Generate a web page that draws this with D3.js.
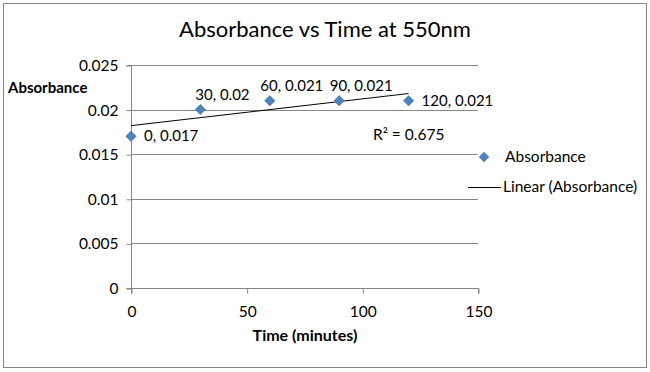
<!DOCTYPE html>
<html><head><meta charset="utf-8">
<script src="https://cdn.jsdelivr.net/npm/d3@7"></script>
<style>body{margin:0;background:#fff}svg{display:block}</style>
</head><body>
<svg id="c" width="650" height="372"></svg>
<script>
const times = [0, 30, 60, 90, 120];
const absorbance = [0.017, 0.020, 0.021, 0.021, 0.021];
const yTicks = [0, 0.005, 0.01, 0.015, 0.02, 0.025];
const xTicks = [0, 50, 100, 150];
const title = "Absorbance vs Time at 550nm";
const xTitle = "Time (minutes)";
const yTitle = "Absorbance";
const seriesName = "Absorbance";
const trendName = "Linear (Absorbance)";

const svg = d3.select("#c");
const font = "Lato, 'Open Sans', sans-serif";
const gray = "#868686";
const blue = "#4F81BD";
const fs = 15.5;

svg.append("rect").attr("x",3.5).attr("y",3.5).attr("width",643).attr("height",364)
  .attr("fill","#fff").attr("stroke",gray);

const x = d3.scaleLinear().domain([0,150]).range([131,478]);
const y = d3.scaleLinear().domain([0,0.025]).range([288,65]);

svg.append("g").selectAll("line").data(yTicks.filter(d=>d>0)).join("line")
  .attr("x1",x(0)).attr("x2",x(150)).attr("y1",d=>Math.round(y(d))+0.5).attr("y2",d=>Math.round(y(d))+0.5)
  .attr("stroke",gray).attr("stroke-width",1);

const yAxis = svg.append("g").attr("transform",`translate(${x(0)+0.5},0.5)`)
  .call(d3.axisLeft(y).tickValues(yTicks).tickSize(5).tickPadding(8).tickFormat(d=>String(+d.toFixed(3))));
const xAxis = svg.append("g").attr("transform",`translate(0.5,${y(0)+0.5})`)
  .call(d3.axisBottom(x).tickValues(xTicks).tickSize(5).tickPadding(12).tickFormat(d3.format("d")));
[yAxis,xAxis].forEach(a=>{
  a.select(".domain").attr("stroke",gray);
  a.selectAll(".tick line").attr("stroke",gray);
  a.selectAll("text").attr("font-family",font).attr("font-size",fs).attr("fill","#000");
});
xAxis.select(".domain").attr("d",`M${x(0)},5V0H${x(150)}V5`);
yAxis.select(".domain").attr("d",`M-5,${y(0.025)}H0V${y(0)}H-5`);

const mx = d3.mean(times), my = d3.mean(absorbance);
const sxy = d3.sum(times,(t,i)=>(t-mx)*(absorbance[i]-my));
const sxx = d3.sum(times,t=>(t-mx)*(t-mx));
const slope = sxy/sxx, icpt = my - slope*mx;
const ssTot = d3.sum(absorbance,v=>(v-my)*(v-my));
const r2 = slope*slope*sxx/ssTot;
svg.append("line").attr("x1",x(0)).attr("y1",y(icpt)).attr("x2",x(120)).attr("y2",y(icpt+slope*120))
  .attr("stroke","#000").attr("stroke-width",1);

const diamond = d3.symbol().type(d3.symbolDiamond2).size(70);
svg.append("g").selectAll("path").data(times).join("path")
  .attr("d",diamond).attr("transform",(t,i)=>`translate(${x(t)},${y(absorbance[i])})`)
  .attr("fill",blue).attr("stroke","#3d6ea8").attr("stroke-width",0.5);

const labelPos = ["right","above","above","above","right"];
svg.append("g").selectAll("text").data(times).join("text")
  .attr("x",(t,i)=>labelPos[i]==="right"? x(t)+13 : x(t)+22)
  .attr("y",(t,i)=>labelPos[i]==="right"? y(absorbance[i])+5 : y(absorbance[i])-10)
  .attr("text-anchor",(t,i)=>labelPos[i]==="right"?"start":"middle")
  .attr("font-family",font).attr("font-size",15)
  .text((t,i)=>`${t}, ${+absorbance[i].toFixed(3)}`);

svg.append("text").attr("x",373).attr("y",140).attr("text-anchor","start")
  .attr("font-family",font).attr("font-size",fs).text("R² = "+r2.toFixed(3));

svg.append("text").attr("x",325).attr("y",37).attr("text-anchor","middle")
  .attr("font-family",font).attr("font-size",22).text(title);
svg.append("text").attr("x",305).attr("y",341).attr("text-anchor","middle")
  .attr("font-family",font).attr("font-size",16).attr("font-weight","bold").text(xTitle);
svg.append("text").attr("x",8).attr("y",93).attr("text-anchor","start")
  .attr("font-family",font).attr("font-size",15).attr("font-weight","bold").text(yTitle);

svg.append("path").attr("d",diamond).attr("transform","translate(484,157)").attr("fill",blue);
svg.append("text").attr("x",505).attr("y",162).attr("font-family",font).attr("font-size",fs).text(seriesName);
svg.append("line").attr("x1",468).attr("x2",501).attr("y1",187.5).attr("y2",187.5).attr("stroke","#000");
svg.append("text").attr("x",503).attr("y",192).attr("font-family",font).attr("font-size",fs).text(trendName);
</script>
</body></html>
